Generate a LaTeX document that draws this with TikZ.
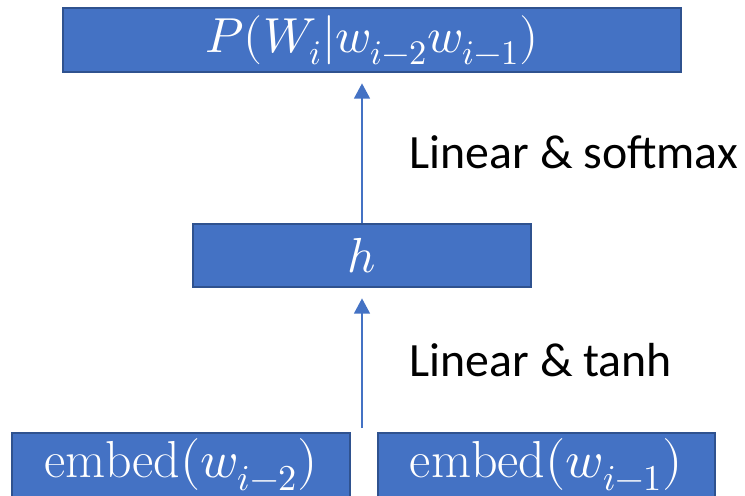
\documentclass[tikz,border=0pt]{standalone}
\usepackage{amsmath}
\usepackage{fontspec}
\usepackage{unicode-math}
\setmathfont{Latin Modern Math}
\newfontfamily\labelfont{Carlito}
\usetikzlibrary{arrows.meta}
\usetikzlibrary{calc}

\definecolor{boxfill}{HTML}{4472C4}
\definecolor{boxline}{HTML}{2F528F}

\tikzset{
  layer/.style={draw=boxline, fill=boxfill, line width=2pt, text=white,
    inner sep=0pt, font=\fontsize{35}{40}\selectfont},
  embed layer/.style={layer, minimum height=1.6cm,
    font=\fontsize{37}{42}\selectfont},
  flow/.style={draw=boxfill, line width=1pt,
    -{Triangle[width=0.4cm,length=0.38cm]}, shorten >=0.25cm},
  step label/.style={anchor=west, font=\labelfont\fontsize{34}{40}\selectfont}
}

\begin{document}
\begin{tikzpicture}
\useasboundingbox (0,0) rectangle (18.625,-12.375);
\node[layer, minimum width=15.45cm, minimum height=1.6cm] (prob) at (9.3,-1.0)
  {$P(W_i|w_{i-2}w_{i-1})$};
\node[layer, minimum width=8.45cm, minimum height=1.575cm] (h) at (9.05,-6.3875)
  {$h$};
\node[embed layer, minimum width=8.45cm] (emb2) at (4.525,-11.625)
  {$\mathrm{embed}(w_{i-2})$};
\node[embed layer, minimum width=8.425cm] (emb1) at (13.6625,-11.625)
  {$\mathrm{embed}(w_{i-1})$};
\coordinate (join) at (9.05,-10.7);
\draw[flow] (h.north) -- (h.north |- prob.south);
\draw[flow] (join) -- (h.south);
\node[step label] (soft) at (10.12,-3.8) {Linear \& softmax};
\node[step label] (tanh) at (10.12,-9.0) {Linear \& tanh};
\end{tikzpicture}
\end{document}
